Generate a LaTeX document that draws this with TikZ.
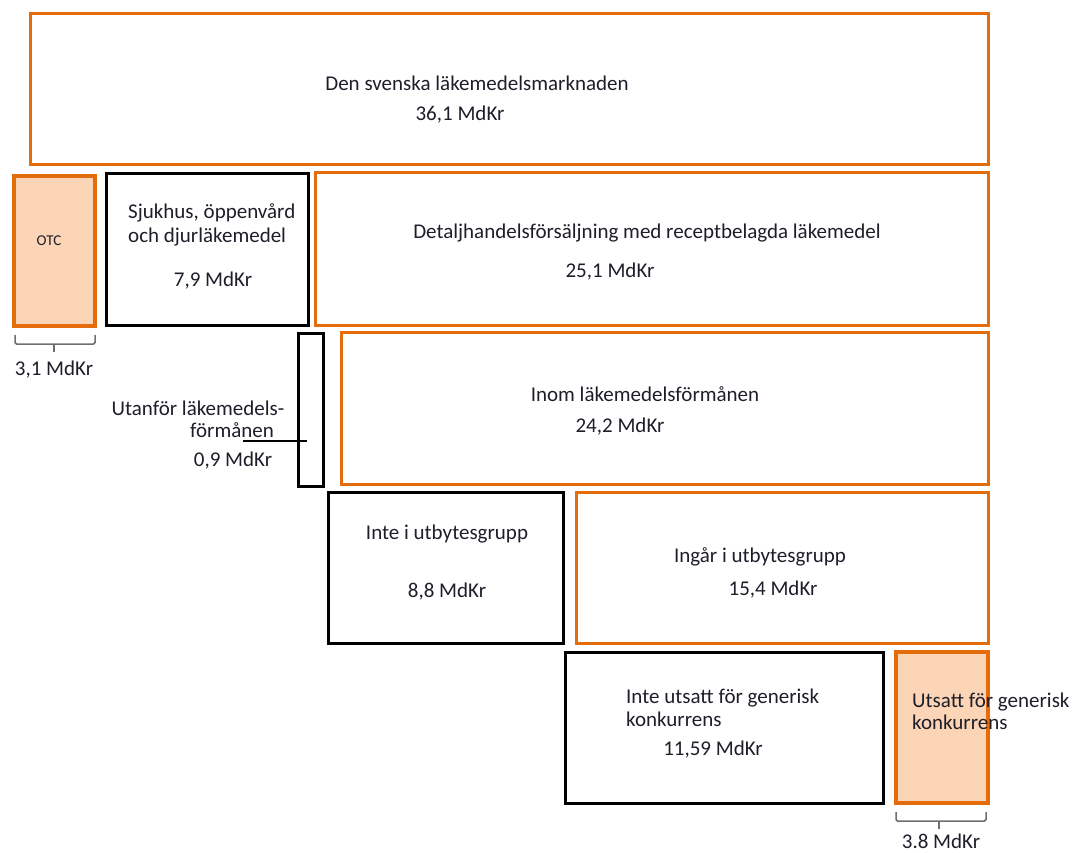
\documentclass[tikz,border=0pt]{standalone}
\usepackage{fontspec}
\setmainfont{Carlito}
\definecolor{orng}{HTML}{E46C0A}
\definecolor{peach}{HTML}{FBD5B5}
\definecolor{txt}{HTML}{1E1E2A}
\definecolor{brk}{HTML}{6E6E6E}
\begin{document}
\begin{tikzpicture}[x=1pt,y=-1pt,
  obox/.style={draw=orng,line width=3pt,inner sep=0pt,minimum width=#1},
  kbox/.style={draw=black,line width=3pt,inner sep=0pt,minimum width=#1},
  pbox/.style={draw=orng,fill=peach,line width=4.5pt,inner sep=0pt,minimum width=#1},
  lbl/.style={inner sep=0pt,text=txt,font=\fontsize{21}{24}\selectfont,anchor=base},
  lbll/.style={lbl,anchor=base west},
  brace/.style={draw=brk,line width=1.5pt,rounded corners=1.5pt}
]
\useasboundingbox (0,0) rectangle (1074,853);
% boxes
\node (top) [obox=958, minimum height=151] at (509,89.5) {};
\node (otc) [pbox=81, minimum height=150] at (54.5,251) {};
\node (sjuk) [kbox=202, minimum height=151] at (207,249.5) {};
\node (detalj) [obox=673, minimum height=152] at (651.5,249) {};
\node (thin) [kbox=25, minimum height=153] at (310.5,409.5) {};
\node (inom) [obox=647, minimum height=152] at (664.5,408) {};
\node (intei) [kbox=235, minimum height=151] at (445.5,567.5) {};
\node (ingar) [obox=412, minimum height=151] at (782,567.5) {};
\node (inteu) [kbox=318, minimum height=151] at (724,727.5) {};
\node (utsatt) [pbox=92, minimum height=151] at (942,727.5) {};
% texts
\node (t1) [lbl] at (477,91) {Den svenska läkemedelsmarknaden};
\node (t1v) [lbl] at (460,121) {36,1 MdKr};
\node (totc) [lbl,font=\fontsize{15}{17}\selectfont] at (49,246) {OTC};
\node (tsj1) [lbll] at (128,219) {Sjukhus, öppenvård};
\node (tsj2) [lbll] at (128,243) {och djurläkemedel};
\node (tsjv) [lbl] at (213,287) {7,9 MdKr};
\node (tdet) [lbl] at (647,239) {Detaljhandelsförsäljning med receptbelagda läkemedel};
\node (tdetv) [lbl] at (610,277) {25,1 MdKr};
\node (tut1) [lbl] at (198,415) {Utanför läkemedels-};
\node (tut2) [lbl] at (232,437) {förmånen};
\node (tutv) [lbl] at (233,466) {0,9 MdKr};
\node (tin) [lbl] at (645,401) {Inom läkemedelsförmånen};
\node (tinv) [lbl] at (620,432) {24,2 MdKr};
\node (tni) [lbl] at (447,539) {Inte i utbytesgrupp};
\node (tniv) [lbl] at (447,597) {8,8 MdKr};
\node (tig) [lbl] at (760,562) {Ingår i utbytesgrupp};
\node (tigv) [lbl] at (773,595) {15,4 MdKr};
\node (tnu1) [lbll] at (626,703) {Inte utsatt för generisk};
\node (tnu2) [lbll] at (626,726) {konkurrens};
\node (tnuv) [lbl] at (713,755) {11,59 MdKr};
\node (tus1) [lbll] at (912,707) {Utsatt för generisk};
\node (tus2) [lbll] at (912,729) {konkurrens};
% connector from label to thin box
\coordinate (ls) at (243,441);
\coordinate (le) at (307,441);
\draw[line width=1.2pt,black] (ls) -- (le);
% braces
\coordinate (b1) at (54,352);
\draw[brace] (15,335) -- (15,344) -- (95,344) -- (95,335);
\draw[brace] (54,344) -- (b1);
\node (tb1) [lbl] at (54,375) {3,1 MdKr};
\coordinate (b2) at (939,829);
\draw[brace] (896,812) -- (896,821) -- (986,821) -- (986,812);
\draw[brace] (939,821) -- (b2);
\node (tb2) [lbl] at (941,848) {3.8 MdKr};
\end{tikzpicture}
\end{document}
